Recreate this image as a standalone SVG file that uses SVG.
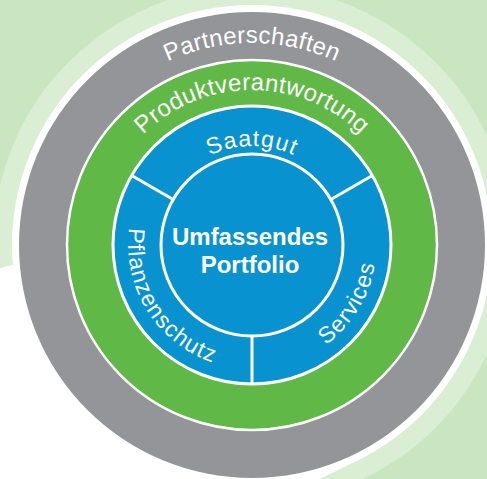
<svg xmlns="http://www.w3.org/2000/svg" width="487" height="479" viewBox="0 0 487 479">
  <style>
    .ring { font-family: "Liberation Sans", Arial, sans-serif; font-size: 23px; fill: #ffffff; letter-spacing: 1.2px; }
    .outer { font-size: 24px; letter-spacing: 0.3px; }
    .core { font-family: "Liberation Sans", Arial, sans-serif; font-size: 24px; font-weight: bold; fill: #ffffff; text-anchor: middle; }
    .div { stroke: #ffffff; stroke-width: 3; }
  </style>
  <defs>
    <path id="arcPartner" d="M50,245 A202,202 0 0 1 454,245"/>
    <path id="arcProdukt" d="M97,245 A155,155 0 0 1 407,245"/>
    <path id="arcSaat" d="M153,245 A99,99 0 0 1 351,245"/>
    <path id="arcPflanz" d="M177.4,146 A124,124 0 0 0 308.3,355.5"/>
    <path id="arcServ" d="M197.6,356.5 A124,124 0 0 0 324.9,144.7"/>
  </defs>

  <g id="background">
    <rect x="0" y="0" width="487" height="479" fill="#c9e6c0"/>
    <circle cx="252" cy="245" r="259" fill="#d9eed3"/>
    <circle cx="252" cy="245" r="240" fill="#ffffff"/>
    <path d="M0,268 L25,262 L368,455 L320,479 L0,479 Z" fill="#ffffff"/>
  </g>

  <g id="partnerschaften">
    <circle cx="252" cy="245" r="233" fill="#939598"/>
    <text class="ring outer"><textPath href="#arcPartner" startOffset="50%" text-anchor="middle">Partnerschaften</textPath></text>
  </g>

  <g id="produktverantwortung">
    <circle cx="252" cy="245" r="185" fill="#60b946" stroke="#ffffff" stroke-width="2.5"/>
    <text class="ring outer"><textPath href="#arcProdukt" startOffset="50%" text-anchor="middle">Produktverantwortung</textPath></text>
  </g>

  <g id="blue-ring">
    <circle cx="252" cy="245" r="139" fill="#0892cf" stroke="#ffffff" stroke-width="3"/>
  </g>

  <g id="connectors">
    <line class="div" x1="132.5" y1="176" x2="174" y2="200"/>
    <line class="div" x1="371.5" y1="176" x2="330" y2="200"/>
    <line class="div" x1="252" y1="335" x2="252" y2="384"/>
  </g>

  <g id="saatgut">
    <text class="ring"><textPath href="#arcSaat" startOffset="50%" text-anchor="middle">Saatgut</textPath></text>
  </g>

  <g id="pflanzenschutz">
    <text class="ring"><textPath href="#arcPflanz" startOffset="50%" text-anchor="middle">Pflanzenschutz</textPath></text>
  </g>

  <g id="services">
    <text class="ring"><textPath href="#arcServ" startOffset="50%" text-anchor="middle">Services</textPath></text>
  </g>

  <g id="portfolio">
    <circle cx="252" cy="245" r="91" fill="#0892cf" stroke="#ffffff" stroke-width="3"/>
    <text class="core" x="250" y="245">Umfassendes</text>
    <text class="core" x="250" y="273">Portfolio</text>
  </g>
</svg>
